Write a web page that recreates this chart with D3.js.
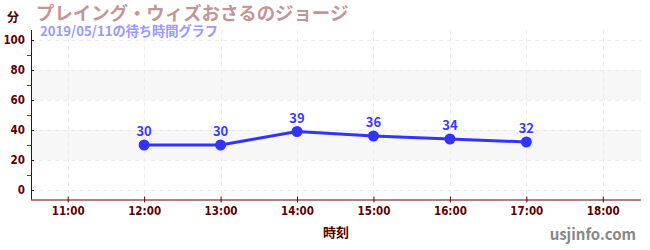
<!DOCTYPE html>
<html>
<head>
<meta charset="utf-8">
<script src="https://cdn.jsdelivr.net/npm/d3@7"></script>
<style>
  body { margin: 0; background: #fff; }
  svg text { font-family: "Noto Sans CJK JP", "Noto Sans", sans-serif; }
  .tick text { font-family: "Liberation Sans Narrow", "DejaVu Sans Condensed", sans-serif; }
</style>
</head>
<body>
<div id="chart"></div>
<script>
// Chart data
const hours = [12, 13, 14, 15, 16, 17];
const waits = [30, 30, 39, 36, 34, 32];
const xTicks = [11, 12, 13, 14, 15, 16, 17, 18];
const yTicks = [0, 20, 40, 60, 80, 100];
const bands = [[20, 40], [60, 80]];

const W = 650, H = 250;
const plotLeft = 31, plotRight = 641, plotTop = 30, plotBottom = 199.5;

const svg = d3.select("#chart").append("svg")
  .attr("width", W).attr("height", H);

const x = d3.scaleLinear().domain([10.52, 18.5]).range([plotLeft, plotRight]);
const y = d3.scaleLinear().domain([-6.33, 106.67]).range([plotBottom, plotTop]);

// Background bands
svg.selectAll("rect.band").data(bands).enter().append("rect")
  .attr("x", plotLeft).attr("width", plotRight - plotLeft)
  .attr("y", d => y(d[1])).attr("height", d => y(d[0]) - y(d[1]))
  .attr("fill", "#f7f7f7");

// Grid lines
svg.selectAll("line.hgrid").data(yTicks).enter().append("line")
  .attr("x1", plotLeft).attr("x2", plotRight)
  .attr("y1", d => y(d) + 0.5).attr("y2", d => y(d) + 0.5)
  .attr("stroke", "#ececec").attr("stroke-dasharray", "4,4");
svg.selectAll("line.vgrid").data(xTicks).enter().append("line")
  .attr("x1", d => Math.round(x(d)) + 0.5).attr("x2", d => Math.round(x(d)) + 0.5)
  .attr("y1", plotTop).attr("y2", plotBottom)
  .attr("stroke", "#ececec").attr("stroke-dasharray", "4,4");

// Y axis minor ticks
svg.append("g")
  .attr("class", "minor")
  .attr("transform", `translate(${plotLeft}, 0)`)
  .call(d3.axisLeft(y).tickValues([10, 30, 50, 70, 90]).tickSize(4).tickFormat(""))
  .call(g => g.select(".domain").remove());

// Y axis
const yAxis = svg.append("g")
  .attr("class", "major")
  .attr("transform", `translate(${plotLeft}, 0)`)
  .call(d3.axisLeft(y).tickValues(yTicks).tickSize(3).tickSizeOuter(0).tickPadding(3));
yAxis.selectAll(".tick line").attr("x2", 3);
yAxis.select(".domain").attr("d", `M0.5,${plotTop}V${plotBottom}`);

// X axis
const xAxis = svg.append("g")
  .attr("class", "major")
  .attr("transform", `translate(0, ${plotBottom})`)
  .call(d3.axisBottom(x).tickValues(xTicks).tickSize(3).tickSizeOuter(0).tickPadding(4)
    .tickFormat(d => d + ":00"));
xAxis.selectAll(".tick line").attr("y1", -3);
xAxis.select(".domain").attr("d", `M${plotLeft},0.5H${plotRight}`);

svg.selectAll(".major .domain, .major .tick line").attr("stroke", "#600000");
svg.selectAll(".minor .tick line").attr("stroke", "#e00000");
svg.selectAll(".tick text")
  .attr("fill", "#600000")
  .style("font-size", "11.5px")
  .style("font-weight", "bold");

// Line and points
svg.append("path")
  .datum(waits)
  .attr("fill", "none")
  .attr("stroke", "#3333ff")
  .attr("stroke-width", 3)
  .attr("d", d3.line().x((d, i) => x(hours[i])).y(d => y(d)));

svg.selectAll("circle.pt").data(waits).enter().append("circle")
  .attr("cx", (d, i) => x(hours[i])).attr("cy", d => y(d))
  .attr("r", 5.5).attr("fill", "#3333ff");

svg.selectAll("text.val").data(waits).enter().append("text")
  .attr("x", (d, i) => x(hours[i])).attr("y", d => y(d) - 9)
  .attr("text-anchor", "middle")
  .attr("fill", "#3a3aff")
  .style("font-size", "13px").style("font-weight", "bold")
  .text(d => d);

// Titles
svg.append("text").attr("x", 7).attr("y", 22)
  .attr("fill", "#500000").style("font-size", "12px").style("font-weight", "bold")
  .text("分");
svg.append("text").attr("x", 36).attr("y", 20)
  .attr("fill", "#c49598").style("font-size", "18.4px").style("font-weight", "bold")
  .text("プレイング・ウィズおさるのジョージ");
svg.append("text").attr("x", 40).attr("y", 36)
  .attr("fill", "#9999ff").style("font-size", "13.2px").style("font-weight", "bold")
  .text("2019/05/11の待ち時間グラフ");
svg.append("text").attr("x", 336).attr("y", 237)
  .attr("text-anchor", "middle")
  .attr("fill", "#500000").style("font-size", "13px").style("font-weight", "bold")
  .text("時刻");
svg.append("text").attr("x", 636).attr("y", 240)
  .attr("text-anchor", "end")
  .attr("fill", "#888").style("font-size", "15px").style("font-weight", "bold")
  .text("usjinfo.com");
</script>
</body>
</html>
